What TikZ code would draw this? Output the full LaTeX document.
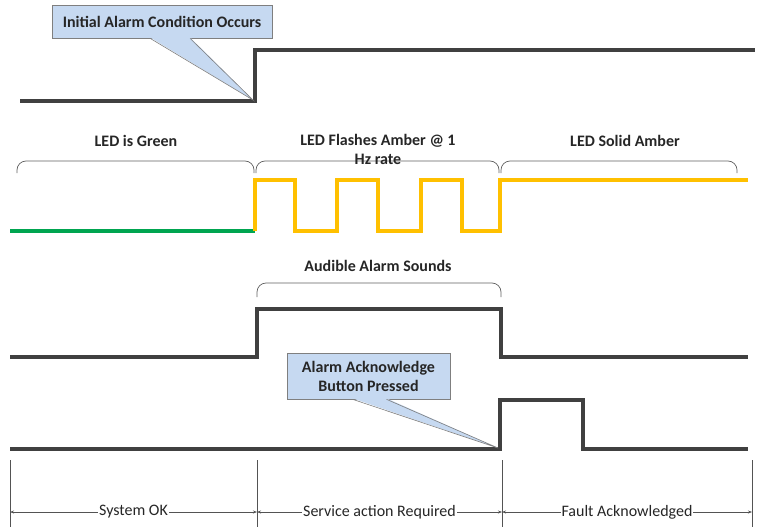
\documentclass[tikz,border=0pt]{standalone}
\usepackage{fontspec}
\setmainfont{Carlito}
\usetikzlibrary{arrows.meta}
\definecolor{sig}{HTML}{404040}
\definecolor{amber}{HTML}{FFC000}
\definecolor{ledgreen}{HTML}{00A550}
\definecolor{callfill}{HTML}{C6D9F1}
\definecolor{callline}{HTML}{7F7F7F}
\definecolor{txt}{HTML}{262626}
\tikzset{
  sigline/.style={line width=3.8pt, sig, line join=miter},
  ambline/.style={line width=3.8pt, amber, line join=miter},
  grnline/.style={line width=3.8pt, ledgreen},
  bracestyle/.style={draw=gray!75!black, line width=0.7pt, rounded corners=9pt},
  lbl/.style={font=\fontsize{16}{19}\selectfont\bfseries, text=txt, align=center, inner sep=0pt},
  callbox/.style={draw=callline, fill=callfill, line width=0.6pt, font=\fontsize{16}{19}\selectfont\bfseries, text=txt, align=center, inner sep=0pt},
  dimline/.style={draw=sig!90, line width=0.6pt, {Stealth[length=4pt,width=3pt]}-{Stealth[length=4pt,width=3pt]}},
  dimlbl/.style={font=\fontsize{16}{18}\selectfont, text=txt, fill=white, inner xsep=1pt, inner ysep=1pt},
  vline/.style={draw=sig!90, line width=0.6pt}
}
\begin{document}
\begin{tikzpicture}[x=1pt,y=-1pt]
\useasboundingbox (0,0) rectangle (770,527);

% ---- signal 1: initial alarm
\draw[sigline] (20,101) -- (255,101) -- (255,50) -- (755,50);

% callout 1
\coordinate (p1) at (253,100);
\node[callbox, minimum width=220pt, minimum height=33pt] (c1) at (162,21.5) {Initial Alarm Condition Occurs};
\fill[callfill] ([xshift=-12pt,yshift=1pt]c1.south) -- (p1) -- ([xshift=28pt,yshift=1pt]c1.south) -- cycle;
\draw[callline, line width=0.6pt] ([xshift=-12pt]c1.south) -- (p1) -- ([xshift=28pt]c1.south);

% ---- braces and LED labels
\coordinate (b1) at (17,173);
\coordinate (b2) at (255,173);
\coordinate (b3) at (500,173);
\coordinate (b4) at (737,173);
\draw[bracestyle] (b1) -- ++(0,-12) -| ([xshift=-1pt]b2);
\draw[bracestyle] ([xshift=1pt]b2) -- ++(0,-12) -| ([xshift=-1pt]b3);
\draw[bracestyle] ([xshift=1pt]b3) -- ++(0,-12) -| (b4);
\node[lbl] (l1) at (136,141) {LED is Green};
\node[lbl] (l2) at (378,149) {LED Flashes Amber @ 1\\Hz rate};
\node[lbl] (l3) at (625,141) {LED Solid Amber};

% ---- LED signal
\draw[grnline] (10,231) -- (255,231);
\draw[ambline] (255,231) -- (255,180) -- (295,180) -- (295,231) -- (337,231) -- (337,180) -- (378,180) -- (378,231) -- (421,231) -- (421,180) -- (462,180) -- (462,231) -- (500,231) -- (500,180) -- (748,180);

% ---- audible alarm
\coordinate (b5) at (257,297);
\coordinate (b6) at (501,297);
\draw[bracestyle] (b5) -- ++(0,-14) -| (b6);
\node[lbl] (l4) at (378,266) {Audible Alarm Sounds};
\draw[sigline] (10,357) -- (257,357) -- (257,309) -- (501,309) -- (501,357) -- (748,357);

% ---- acknowledge button
\draw[sigline] (10,449) -- (500,449) -- (500,400) -- (583,400) -- (583,449) -- (748,449);
\coordinate (p2) at (498,448);
\node[callbox, minimum width=163pt, minimum height=46pt] (c2) at (368.5,376) {Alarm Acknowledge\\Button Pressed};
\fill[callfill] ([xshift=-16pt,yshift=1pt]c2.south) -- (p2) -- ([xshift=18pt,yshift=1pt]c2.south) -- cycle;
\draw[callline, line width=0.6pt] ([xshift=-16pt]c2.south) -- (p2) -- ([xshift=18pt]c2.south);

% ---- bottom phase markers
\foreach \n/\x in {v1/10, v2/257, v3/502, v4/752} {
  \coordinate (\n t) at (\x,460);
  \coordinate (\n b) at (\x,527);
  \coordinate (\n m) at (\x,512);
  \draw[vline] (\n t) -- (\n b);
}
\draw[dimline] (v1m) -- node[dimlbl] (d1) {System OK} (v2m);
\draw[dimline] (v2m) -- node[dimlbl] (d2) {Service action Required} (v3m);
\draw[dimline] (v3m) -- node[dimlbl] (d3) {Fault Acknowledged} (v4m);
\end{tikzpicture}
\end{document}
